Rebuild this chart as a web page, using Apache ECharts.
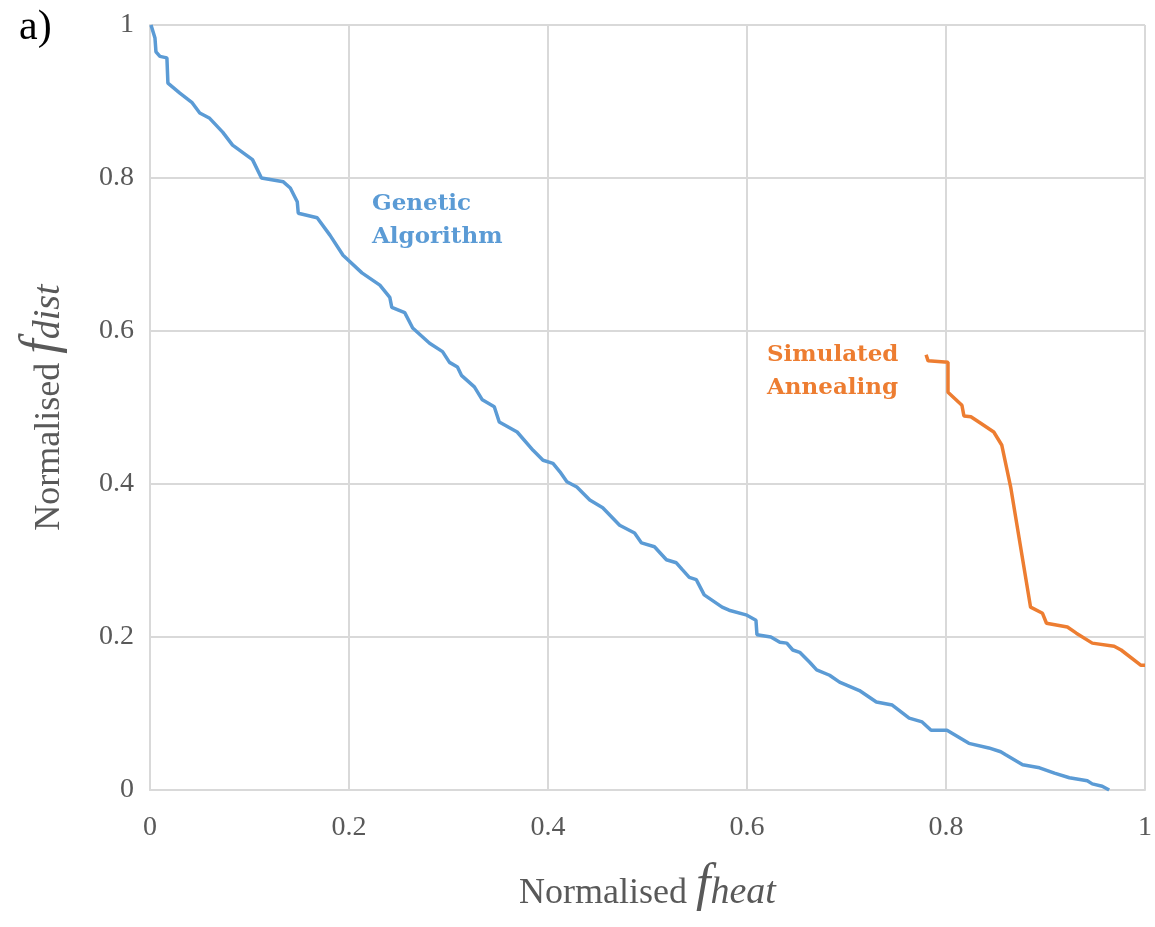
<!DOCTYPE html>
<html>
<head>
<meta charset="utf-8">
<script src="https://cdn.jsdelivr.net/npm/echarts@6/dist/echarts.min.js"></script>
<style>html,body{margin:0;padding:0;background:#fff}#c{width:1155px;height:927px}</style>
</head>
<body>
<div id="c"></div>
<script>
var gaX = [0.001,0.005,0.006,0.010,0.017,0.018,0.030,0.042,0.050,0.060,0.073,0.083,0.103,0.112,0.134,0.141,0.148,0.149,0.168,0.181,0.194,0.213,
  0.231,0.241,0.243,0.256,0.264,0.281,0.294,0.301,0.309,0.313,0.326,0.334,0.346,0.351,0.369,0.385,0.395,0.405,0.412,0.419,0.429,0.442,0.455,
  0.472,0.487,0.494,0.507,0.519,0.529,0.535,0.542,0.549,0.557,0.575,0.582,0.599,0.609,0.610,0.624,0.633,0.640,0.646,0.653,0.663,0.670,0.683,0.693,0.713,
  0.730,0.746,0.763,0.776,0.785,0.801,0.823,0.843,0.855,0.860,0.877,0.894,0.909,0.924,0.942,0.947,0.957,0.964];
var gaY = [1.000,0.983,0.965,0.959,0.957,0.924,0.911,0.899,0.885,0.878,0.860,0.843,0.824,0.800,0.795,0.787,0.769,0.754,0.748,0.725,0.699,0.676,
  0.660,0.644,0.631,0.624,0.604,0.584,0.573,0.559,0.553,0.542,0.527,0.510,0.501,0.481,0.468,0.444,0.431,0.427,0.416,0.403,0.396,0.379,0.369,
  0.346,0.336,0.323,0.318,0.301,0.297,0.288,0.278,0.275,0.255,0.239,0.235,0.229,0.222,0.203,0.200,0.193,0.192,0.183,0.180,0.167,0.157,0.150,0.141,0.130,
  0.115,0.111,0.094,0.089,0.078,0.078,0.061,0.055,0.050,0.046,0.033,0.029,0.022,0.016,0.012,0.008,0.005,0.000];
var saX = [0.780,0.782,0.802,0.802,0.816,0.818,0.825,0.833,0.848,0.856,0.865,0.885,0.897,0.901,0.922,0.931,0.947,0.969,0.976,0.996,1.000];
var saY = [0.569,0.561,0.559,0.520,0.503,0.489,0.488,0.481,0.468,0.451,0.396,0.239,0.231,0.218,0.213,0.205,0.192,0.188,0.183,0.163,0.163];
var xTicks = [0, 0.2, 0.4, 0.6, 0.8, 1];
var yTicks = [0, 0.2, 0.4, 0.6, 0.8, 1];

function zip(a, b) { return a.map(function (v, i) { return [v, b[i]]; }); }
var tickFmt = function (v) { return String(Math.round(v * 10) / 10); };
var serif = 'Liberation Serif';
var grey = '#595959';
var nameRich = {
  n: { fontFamily: serif, fontSize: 36, color: grey, verticalAlign: 'bottom', lineHeight: 52 },
  f: { fontFamily: serif, fontSize: 52, fontStyle: 'italic', color: grey, verticalAlign: 'bottom', lineHeight: 52 },
  s: { fontFamily: serif, fontSize: 38, fontStyle: 'italic', color: grey, verticalAlign: 'bottom', lineHeight: 40 }
};
var chart = echarts.init(document.getElementById('c'));
chart.setOption({
  animation: false,
  backgroundColor: '#fff',
  grid: { left: 150, right: 9, top: 25, bottom: 137 },
  xAxis: {
    type: 'value', min: 0, max: 1, interval: 0.2,
    name: '{n|Normalised }{f|f}{s|heat}', nameLocation: 'middle', nameGap: 70,
    nameTextStyle: { rich: nameRich },
    axisLine: { show: true, lineStyle: { color: '#d9d9d9', width: 2 } },
    axisTick: { show: false },
    splitLine: { show: true, lineStyle: { color: '#d9d9d9', width: 2 } },
    axisLabel: { fontFamily: serif, fontSize: 28, color: grey, margin: 24, formatter: tickFmt }
  },
  yAxis: {
    type: 'value', min: 0, max: 1, interval: 0.2,
    name: '{n|Normalised }{f|f}{s|dist}', nameLocation: 'middle', nameGap: 82,
    nameTextStyle: { rich: nameRich },
    axisLine: { show: true, lineStyle: { color: '#d9d9d9', width: 2 } },
    axisTick: { show: false },
    splitLine: { show: true, lineStyle: { color: '#d9d9d9', width: 2 } },
    axisLabel: { fontFamily: serif, fontSize: 28, color: grey, margin: 16, formatter: tickFmt }
  },
  series: [
    { type: 'line', name: 'Genetic Algorithm', data: zip(gaX, gaY), showSymbol: false, smooth: false,
      lineStyle: { color: '#5B9BD5', width: 3.5 }, itemStyle: { color: '#5B9BD5' } },
    { type: 'line', name: 'Simulated Annealing', data: zip(saX, saY), showSymbol: false, smooth: false,
      lineStyle: { color: '#ED7D31', width: 3.5 }, itemStyle: { color: '#ED7D31' } }
  ],
  graphic: [
    { type: 'text', left: 19, top: 7, style: { text: 'a)', font: '42px "Liberation Serif"', fill: '#000' } },
    { type: 'text', left: 372, top: 188, style: { text: 'Genetic\nAlgorithm', font: 'bold 23px "DejaVu Serif"', lineHeight: 33, fill: '#5B9BD5' } },
    { type: 'text', left: 767, top: 339, style: { text: 'Simulated\nAnnealing', font: 'bold 23px "DejaVu Serif"', lineHeight: 33, fill: '#ED7D31' } }
  ]
});
</script>
</body>
</html>
